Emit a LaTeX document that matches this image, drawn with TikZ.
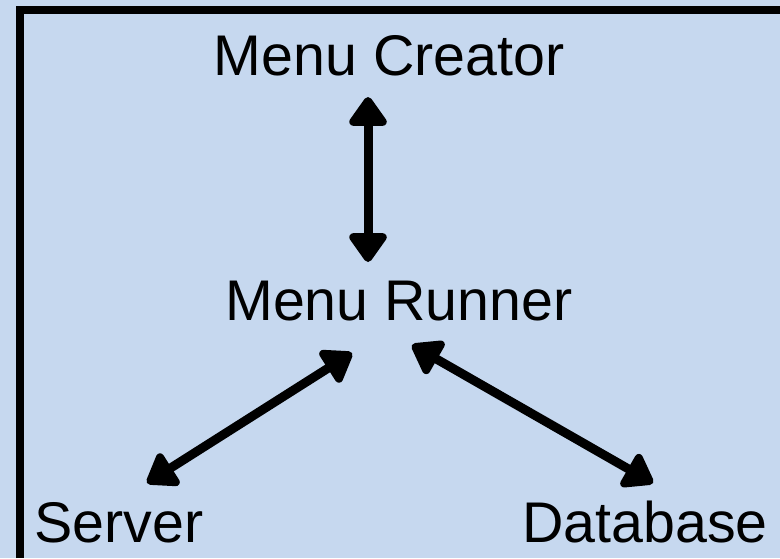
\documentclass[tikz,border=0pt]{standalone}
\usepackage{fontspec}
\setmainfont{Liberation Sans}
\usetikzlibrary{arrows.meta}
\definecolor{panelblue}{RGB}{198,216,239}
\tikzset{
  name text/.style={inner sep=0pt, font=\fontsize{43}{51}\selectfont},
  link/.style={line width=6.75pt, line cap=round,
    {Triangle[length=24pt,width=32pt,round]}-{Triangle[length=24pt,width=32pt,round]}},
}
\begin{document}
\begin{tikzpicture}[x=0.75pt,y=0.75pt,yscale=-1,xscale=1]
\useasboundingbox (0,0) rectangle (780,558);
%Shape: background
\fill[panelblue] (0,0) rectangle (780,558);
%Shape: frame
\draw[line width=6pt] (20,558) -- (20,10) -- (780,10);

% Text Node
\node[name text, anchor=base] (creator) at (389,75) {Menu Creator};
% Text Node
\node[name text, anchor=base] (runner) at (399,320) {Menu Runner};
% Text Node
\node[name text, anchor=base west] (server) at (34,542) {Server};
% Text Node
\node[name text, anchor=base west] (database) at (522,542) {Database};

%Arrow ends
\coordinate (creatorEnd) at (368,97);
\coordinate (runnerTop) at (368,262);
\coordinate (runnerLeft) at (352,353);
\coordinate (serverEnd) at (147,483);
\coordinate (runnerRight) at (412,345);
\coordinate (databaseEnd) at (653,483);

%Straight Lines
\draw[link] (creatorEnd) -- (runnerTop);
\draw[link] (serverEnd) -- (runnerLeft);
\draw[link] (runnerRight) -- (databaseEnd);

\end{tikzpicture}
\end{document}
